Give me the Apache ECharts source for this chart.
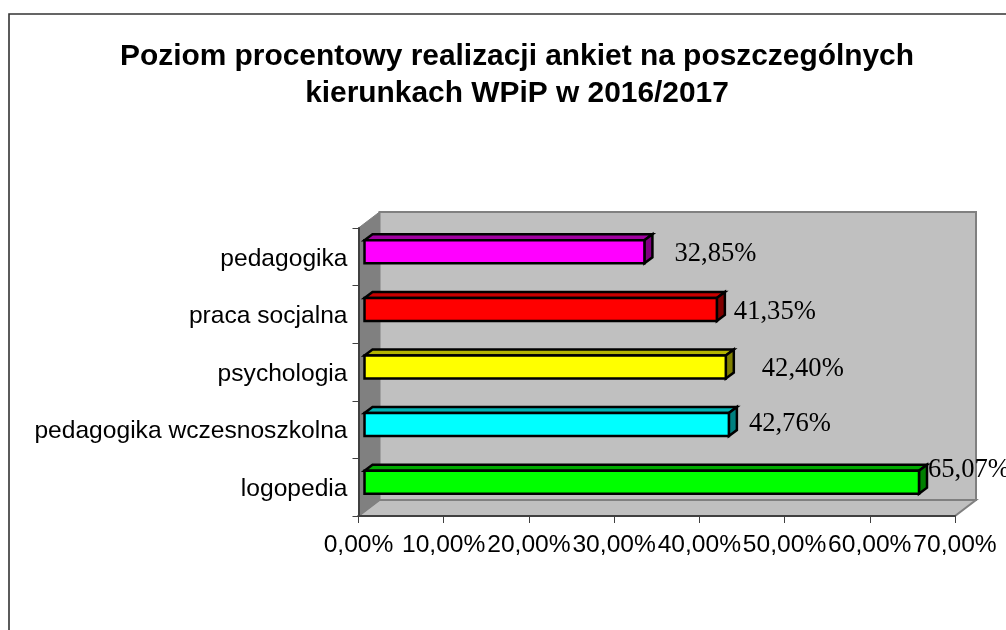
<!DOCTYPE html>
<html><head><meta charset="utf-8">
<style>html,body{margin:0;padding:0;background:#fff;overflow:hidden}#c{width:1006px;height:630px}</style>
<script src="https://cdn.jsdelivr.net/npm/echarts@6/dist/echarts.min.js"></script>
</head><body><div id="c"></div>
<script>
const titleLines = ['Poziom procentowy realizacji ankiet na poszczególnych', 'kierunkach WPiP w 2016/2017'];
const categories = ['logopedia', 'pedagogika wczesnoszkolna', 'psychologia', 'praca socjalna', 'pedagogika'];
const values = [65.07, 42.76, 42.40, 41.35, 32.85];
const frontColors = ['#00ff00', '#00ffff', '#ffff00', '#ff0000', '#ff00ff'];
const topColors = ['#00aa00', '#00b4b4', '#b4b400', '#c80000', '#a000a0'];
const sideColors = ['#008000', '#008080', '#808000', '#800000', '#800080'];
const labelOffsets = [[15, -17], [26, -6], [42, -3], [23, -2], [36, -3]];

const fmt = v => v.toFixed(2).replace('.', ',') + '%';
const chart = echarts.init(document.getElementById('c'), null, {renderer: 'canvas'});
const WALL_DX = 21, WALL_DY = 16, BAR_DX = 8, BAR_DY = 6, FRONT_DX = 6, FRONT_DY = 5, BAR_H = 23;
const ink = {stroke: '#000', lineWidth: 2.5, lineJoin: 'miter'};

function renderWalls(params) {
  const c = params.coordSys, x0 = c.x, x1 = c.x + c.width, y0 = c.y, y1 = c.y + c.height;
  const poly = (points, fill, stroke, lw) => ({type: 'polygon', shape: {points}, style: {fill, stroke, lineWidth: lw}, silent: true});
  return {type: 'group', children: [
    poly([[x0 + WALL_DX, y0 - WALL_DY], [x1 + WALL_DX, y0 - WALL_DY], [x1 + WALL_DX, y1 - WALL_DY], [x0 + WALL_DX, y1 - WALL_DY]], '#c0c0c0', '#808080', 2),
    poly([[x0, y1], [x0 + WALL_DX, y1 - WALL_DY], [x1 + WALL_DX, y1 - WALL_DY], [x1, y1]], '#c0c0c0', '#808080', 2),
    poly([[x0, y0], [x0 + WALL_DX, y0 - WALL_DY], [x0 + WALL_DX, y1 - WALL_DY], [x0, y1]], '#808080', '#808080', 1)
  ]};
}

function renderBar(params, api) {
  const i = params.dataIndex, v = api.value(0);
  const start = api.coord([0, i]), end = api.coord([v, i]);
  const xa = start[0] + FRONT_DX, xb = end[0] + FRONT_DX;
  const yt = start[1] - FRONT_DY - BAR_H / 2, yb = yt + BAR_H;
  const off = labelOffsets[i];
  return {type: 'group', children: [
    {type: 'polygon', shape: {points: [[xa, yt], [xa + BAR_DX, yt - BAR_DY], [xb + BAR_DX, yt - BAR_DY], [xb, yt]]}, style: Object.assign({fill: topColors[i]}, ink)},
    {type: 'polygon', shape: {points: [[xb, yt], [xb + BAR_DX, yt - BAR_DY], [xb + BAR_DX, yb - BAR_DY], [xb, yb]]}, style: Object.assign({fill: sideColors[i]}, ink)},
    {type: 'rect', shape: {x: xa, y: yt, width: xb - xa, height: BAR_H}, style: Object.assign({fill: frontColors[i]}, ink)},
    {type: 'text', x: end[0] + off[0], y: end[1] + off[1], style: {text: fmt(v), fill: '#000', font: '26.6px "Liberation Serif"', align: 'left', verticalAlign: 'middle'}}
  ]};
}

chart.setOption({
  animation: false,
  backgroundColor: '#fff',
  title: {
    text: titleLines.join('\n'), left: 512, top: 33, textAlign: 'center',
    textStyle: {fontFamily: 'Liberation Sans', fontWeight: 'bold', fontSize: 29.9, color: '#000', lineHeight: 37}
  },
  graphic: [{type: 'polyline', shape: {points: [[9, 630], [9, 14], [1006, 14]]}, style: {fill: null, stroke: '#333', lineWidth: 1.6}, silent: true}],
  grid: {left: 358.5, top: 228, width: 596.5, height: 288, containLabel: false},
  xAxis: {
    type: 'value', min: 0, max: 70, interval: 10, splitLine: {show: false},
    axisLine: {show: true, lineStyle: {color: '#404040', width: 2}},
    axisTick: {show: true, length: 7, lineStyle: {color: '#404040', width: 1}},
    axisLabel: {formatter: fmt, margin: 17, hideOverlap: false, showMinLabel: true, showMaxLabel: true, fontFamily: 'Liberation Sans', fontSize: 24.6, color: '#000'}
  },
  yAxis: {
    type: 'category', data: categories,
    axisLine: {show: true, onZero: false, lineStyle: {color: '#404040', width: 2}},
    axisTick: {show: true, length: 6, alignWithLabel: false, lineStyle: {color: '#404040', width: 1}},
    axisLabel: {
      margin: 11, interval: 0, formatter: '{shift|{value}}',
      rich: {shift: {padding: [4, 0, 0, 0], fontFamily: 'Liberation Sans', fontSize: 24.6, color: '#000'}}
    }
  },
  series: [
    {type: 'custom', coordinateSystem: 'cartesian2d', silent: true, z: 0, clip: false, data: [[0, 0]], renderItem: renderWalls},
    {type: 'custom', name: 'Poziom realizacji', coordinateSystem: 'cartesian2d', z: 5, clip: false, encode: {x: 0, y: 1},
     data: values.map((v, i) => [v, i]), renderItem: renderBar}
  ]
});
</script></body></html>
